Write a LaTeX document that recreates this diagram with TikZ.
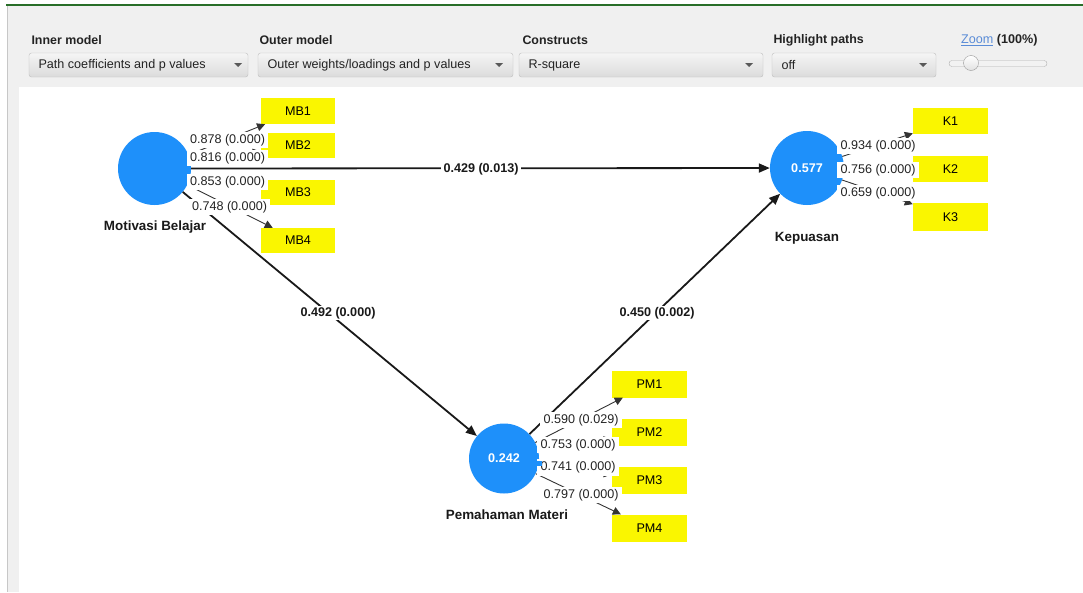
\documentclass[tikz,border=0pt]{standalone}
\usepackage{fontspec}
\setmainfont{Liberation Sans}
\usetikzlibrary{arrows.meta}
\definecolor{plsblue}{RGB}{30,144,250}
\definecolor{plsyellow}{RGB}{250,246,0}
\definecolor{panel}{RGB}{240,240,240}
\definecolor{txt}{RGB}{35,35,35}
\definecolor{linkblue}{RGB}{90,140,215}
\definecolor{topgreen}{RGB}{40,110,40}
\definecolor{ddborder}{RGB}{190,190,190}
\begin{document}
\begin{tikzpicture}[x=1pt,y=-1pt,
  every node/.style={font=\fontsize{12.6}{14}\selectfont, text=txt},
  hdr/.style={anchor=west, font=\bfseries\fontsize{12.4}{14}\selectfont},
  ddtext/.style={anchor=west, font=\fontsize{12.6}{14}\selectfont},
  ddbox/.style={draw=ddborder, rounded corners=2.5pt, top color=white!96!black, bottom color=white!86!black},
  lv/.style={circle, fill=plsblue, inner sep=0pt, text=white, font=\bfseries\fontsize{12.6}{14}\selectfont},
  lvname/.style={font=\bfseries\fontsize{13.4}{15}\selectfont, text=black!90},
  ind/.style={rectangle, fill=plsyellow, inner sep=0pt, minimum width=75pt, minimum height=26pt, text=black},
  ld/.style={fill=white, inner xsep=3.5pt, inner ysep=2.5pt},
  pc/.style={fill=white, inner xsep=2.5pt, inner ysep=1.5pt, font=\bfseries\fontsize{12.6}{14}\selectfont, text=black!90},
  sp/.style={line width=1.8pt, black!90, -{Triangle[length=11pt,width=9pt]}},
  op/.style={line width=0.9pt, black!80, -{Triangle[length=8pt,width=8pt]}},
  tab/.style={fill=plsblue}
]
\useasboundingbox (0,0) rectangle (1083,592);
% frame
\fill[white] (0,0) rectangle (1083,592);
\fill[panel] (7,6) rectangle (1083,592);
\fill[white] (19,87) rectangle (1083,592);
\draw[black!22, line width=1pt] (7,5) -- (7,592);
\draw[topgreen, line width=2pt] (6,5) -- (1083,5);
% header
\node[hdr] (h1) at (28,40) {Inner model};
\node[hdr] (h2) at (256,40) {Outer model};
\node[hdr] (h3) at (519,40) {Constructs};
\node[hdr] (h4) at (770,40) {Highlight paths};
\node[anchor=west, inner sep=0pt] (hz) at (961,40) {\textcolor{linkblue}{\underline{Zoom}} \textbf{(100\%)}};
\draw[ddbox] (29,53) rectangle (248,77);
\draw[ddbox] (258,53) rectangle (513,77);
\draw[ddbox] (519,53) rectangle (763,77);
\draw[ddbox] (772,53) rectangle (936,77);
\node[ddtext] (d1) at (35,65) {Path coefficients and p values};
\node[ddtext] (d2) at (264,65) {Outer weights/loadings and p values};
\node[ddtext] (d3) at (525,65) {R-square};
\node[ddtext] (d4) at (778,65) {off};
\foreach \ax in {238,499,749,923}{
  \fill[black!65] (\ax-4,63) -- (\ax+4,63) -- (\ax,67) -- cycle;
}
\draw[black!30, fill=black!5, rounded corners=3pt] (949,60.5) rectangle (1047,66.5);
\draw[black!40, top color=white, bottom color=black!12] (971,63) circle (7.5);
% constructs
\node[lv, minimum size=73pt] (MB) at (154.5,168.5) {};
\node[lv, minimum size=74pt] (KP) at (807,168) {0.577};
\node[lv, minimum size=70pt] (PM) at (504,458.5) {0.242};
\node[lvname] (MBn) at (155,227) {Motivasi Belajar};
\node[lvname] (KPn) at (807,238) {Kepuasan};
\node[lvname] (PMn) at (507,515) {Pemahaman Materi};
% indicators
\node[ind, minimum width=74pt] (MB1) at (298,111) {MB1};
\node[ind, minimum width=74pt, minimum height=25pt] (MB2) at (298,145.5) {MB2};
\node[ind, minimum width=74pt, minimum height=25pt] (MB3) at (298,192.5) {MB3};
\node[ind, minimum width=74pt, minimum height=25pt] (MB4) at (298,240.5) {MB4};
\node[ind] (K1) at (950.5,121) {K1};
\node[ind] (K2) at (950.5,169) {K2};
\node[ind, minimum height=28pt] (K3) at (950.5,217) {K3};
\node[ind, minimum height=27pt] (PM1) at (649.5,384) {PM1};
\node[ind, minimum height=27pt] (PM2) at (649.5,432) {PM2};
\node[ind, minimum height=27pt] (PM3) at (649.5,480) {PM3};
\node[ind, minimum height=27pt] (PM4) at (649.5,528) {PM4};
% outer arrows
\foreach \t in {MB1,MB2,MB3,MB4}{\draw[op] (MB) -- (\t);}
\foreach \t in {K1,K2,K3}{\draw[op] (KP) -- (\t);}
\foreach \t in {PM1,PM2,PM3,PM4}{\draw[op] (PM) -- (\t);}
% inner arrows
\draw[sp] (MB) -- (KP);
\draw[sp] (MB) -- (PM);
\draw[sp] (PM) -- (KP);
% loading labels
\node[ld] (l1) at (227.5,140) {0.878 (0.000)};
\node[ld] (l2) at (227.5,158.5) {0.816 (0.000)};
\node[ld] (l3) at (227.5,182) {0.853 (0.000)};
\node[ld] (l4) at (229.5,207) {0.748 (0.000)};
\node[ld] (l5) at (878,146) {0.934 (0.000)};
\node[ld] (l6) at (878,170) {0.756 (0.000)};
\node[ld] (l7) at (878,193) {0.659 (0.000)};
\node[ld] (l8) at (581,420) {0.590 (0.029)};
\node[ld] (l9) at (578,445) {0.753 (0.000)};
\node[ld] (l10) at (578,467.5) {0.741 (0.000)};
\node[ld] (l11) at (581,495) {0.797 (0.000)};
% path coefficient labels
\node[pc] (p1) at (481,169) {0.429 (0.013)};
\node[pc] (p2) at (338,313) {0.492 (0.000)};
\node[pc] (p3) at (657,313) {0.450 (0.002)};
% tabs
\fill[tab] (183,166) rectangle (191,172);
\fill[tab] (535,461) rectangle (542,466);
\end{tikzpicture}
\end{document}
